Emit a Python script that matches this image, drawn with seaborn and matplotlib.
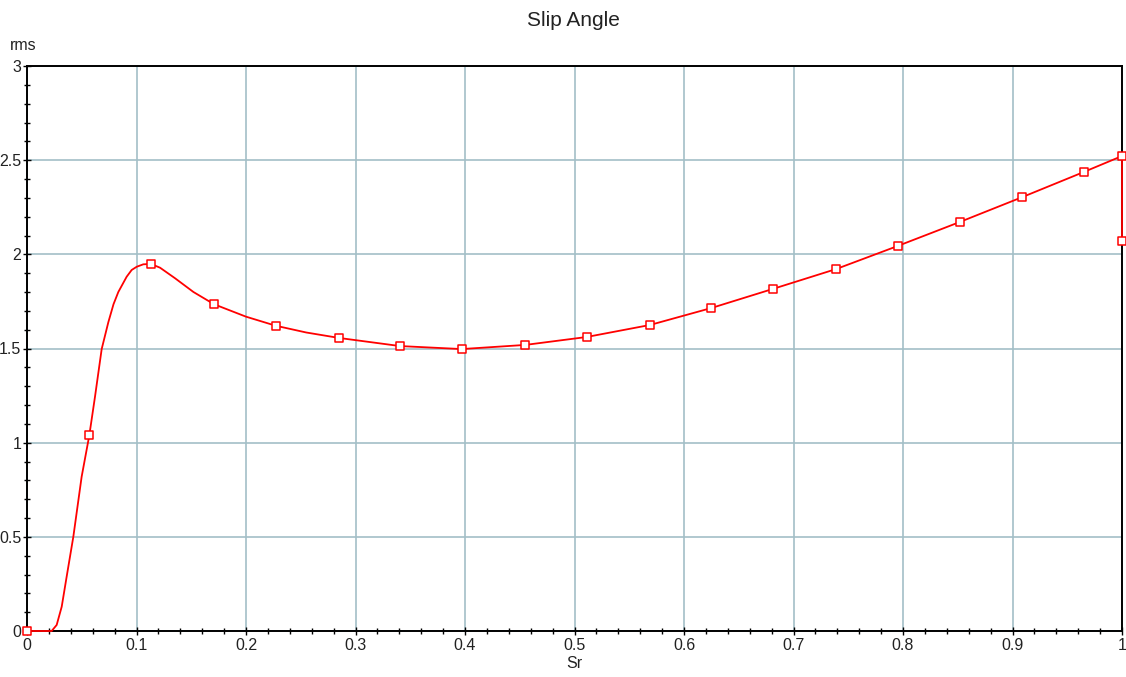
import matplotlib
matplotlib.use("Agg")
import matplotlib.pyplot as plt
from matplotlib.ticker import MultipleLocator
import seaborn as sns
import pandas as pd

# Slip angle rms response vs. Sr
curve_sr = [0, 0.0225, 0.0271, 0.0317, 0.0362, 0.0423, 0.0499, 0.0569, 0.0621, 0.0682,
            0.0743, 0.0790, 0.0834, 0.0910, 0.0956, 0.1002, 0.1062, 0.1132, 0.1215,
            0.1352, 0.152, 0.1708, 0.200, 0.2271, 0.255, 0.285, 0.3406, 0.397, 0.455,
            0.511, 0.569, 0.625, 0.681, 0.739, 0.795, 0.852, 0.909, 0.965, 1.0, 1.0]
curve_rms = [0, 0, 0.032, 0.129, 0.288, 0.50, 0.819, 1.039, 1.244, 1.497,
             1.640, 1.735, 1.80, 1.881, 1.917, 1.934, 1.947, 1.949, 1.929,
             1.873, 1.80, 1.735, 1.669, 1.621, 1.585, 1.556, 1.513, 1.497, 1.519,
             1.561, 1.625, 1.715, 1.816, 1.922, 2.044, 2.172, 2.304, 2.437, 2.522, 2.071]

marker_sr = [0, 0.0569, 0.1132, 0.1708, 0.2271, 0.285, 0.3406, 0.397, 0.455, 0.511,
             0.569, 0.625, 0.681, 0.739, 0.795, 0.852, 0.909, 0.965, 1.0, 1.0]
marker_rms = [0, 1.039, 1.949, 1.735, 1.621, 1.556, 1.513, 1.497, 1.519, 1.561,
              1.625, 1.715, 1.816, 1.922, 2.044, 2.172, 2.304, 2.437, 2.522, 2.071]

x_ticks = [0, 0.1, 0.2, 0.3, 0.4, 0.5, 0.6, 0.7, 0.8, 0.9, 1]
x_ticklabels = ["0", "0.1", "0.2", "0.3", "0.4", "0.5", "0.6", "0.7", "0.8", "0.9", "1"]
y_ticks = [0, 0.5, 1, 1.5, 2, 2.5, 3]
y_ticklabels = ["0", "0.5", "1", "1.5", "2", "2.5", "3"]

sns.set_style("white")
plt.rcParams["font.family"] = ["Liberation Sans", "DejaVu Sans"]

line_df = pd.DataFrame({"Sr": curve_sr, "rms": curve_rms})
mark_df = pd.DataFrame({"Sr": marker_sr, "rms": marker_rms})

fig = plt.figure(figsize=(11.26, 6.77), dpi=100)
ax = fig.add_axes([27 / 1126, 46 / 677, 1095 / 1126, 565 / 677])

sns.lineplot(data=line_df, x="Sr", y="rms", sort=False, estimator=None,
             color="#ff0000", linewidth=1.3, ax=ax, zorder=3)
for ln in ax.lines:
    ln.set_clip_on(False)
sns.scatterplot(data=mark_df, x="Sr", y="rms", marker="s", s=36,
                facecolor="white", edgecolor="#ff0000", linewidth=1.1,
                ax=ax, zorder=4, clip_on=False)

ax.set_xlim(0, 1)
ax.set_ylim(0, 3)
ax.set_xticks(x_ticks)
ax.set_xticklabels(x_ticklabels)
ax.set_yticks(y_ticks)
ax.set_yticklabels(y_ticklabels)
ax.xaxis.set_minor_locator(MultipleLocator(0.02))
ax.yaxis.set_minor_locator(MultipleLocator(0.1))

ax.grid(True, which="major", color="#a3bfc7", linewidth=1.2)
ax.set_axisbelow(True)

for side in ["left", "right", "top", "bottom"]:
    ax.spines[side].set_visible(True)
    ax.spines[side].set_color("black")
    ax.spines[side].set_linewidth(1.4)
    ax.spines[side].set_zorder(2.5)

ax.tick_params(axis="both", which="major", direction="inout", length=6, width=1,
               color="black", labelsize=11.5, labelcolor="#222222")
ax.tick_params(axis="both", which="minor", direction="inout", length=5, width=1,
               color="black")
ax.tick_params(axis="x", which="both", bottom=True, top=False, pad=2)
ax.tick_params(axis="y", which="both", left=True, right=False, pad=1)

ax.set_xlabel("Sr", fontsize=11.5, color="#222222", labelpad=2)
ax.set_ylabel("")
fig.text(10 / 1126, 1 - 46 / 677, "rms", fontsize=11.5, color="#222222",
         ha="left", va="center")
fig.text(573 / 1126, 1 - 21 / 677, "Slip Angle", fontsize=15, color="#222222",
         ha="center", va="center")

fig.savefig("out.png", dpi=100, facecolor="white")
